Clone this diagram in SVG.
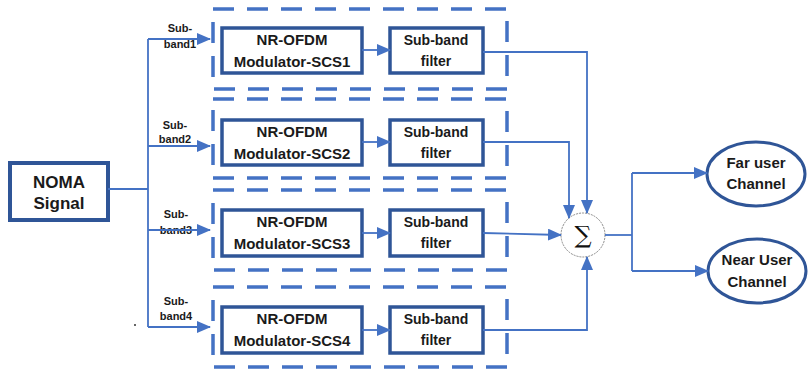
<svg xmlns="http://www.w3.org/2000/svg" width="809" height="369" viewBox="0 0 809 369">
<defs>
<marker id="ah" markerUnits="userSpaceOnUse" markerWidth="14" markerHeight="12" refX="13" refY="6" orient="auto">
<path d="M0,0 L14,6 L0,12 Z" fill="#4472C4"/>
</marker>
<style>
.dash{fill:none;stroke:#4472C4;stroke-width:3.5;stroke-dasharray:21 13}
.blk{fill:#fff;stroke:#2F5597;stroke-width:3.5}
.con{fill:none;stroke:#4472C4;stroke-width:1.8}
.t{font-family:"Liberation Sans",Arial,sans-serif;font-weight:bold;fill:#1a1a1a;text-anchor:middle}
.t15{font-size:15px}
.t14{font-size:14px}
.lbl{font-size:11px}
</style>
</defs>
<rect width="809" height="369" fill="#fff"/>

<g id="noma">
<rect x="10" y="163" width="98" height="57" fill="#fff" stroke="#2F5597" stroke-width="4"/>
<text class="t" x="59" y="188" font-size="17">NOMA</text>
<text class="t" x="59" y="209" font-size="17">Signal</text>
</g>

<g id="chain1">
<rect class="dash" x="213" y="9" width="294" height="80"/>
<rect class="blk" x="222" y="28" width="140" height="45"/>
<text class="t t15" x="292" y="45">NR-OFDM</text>
<text class="t t15" x="292" y="67">Modulator-SCS1</text>
<rect class="blk" x="390" y="28" width="93" height="45"/>
<text class="t t14" x="436" y="45">Sub-band</text>
<text class="t t14" x="436" y="66">filter</text>
</g>

<g id="chain2">
<rect class="dash" x="213" y="99" width="294" height="79"/>
<rect class="blk" x="222" y="120" width="140" height="45"/>
<text class="t t15" x="292" y="137">NR-OFDM</text>
<text class="t t15" x="292" y="159">Modulator-SCS2</text>
<rect class="blk" x="390" y="120" width="93" height="45"/>
<text class="t t14" x="436" y="137">Sub-band</text>
<text class="t t14" x="436" y="158">filter</text>
</g>

<g id="chain3">
<rect class="dash" x="213" y="190" width="294" height="80"/>
<rect class="blk" x="222" y="210" width="140" height="46"/>
<text class="t t15" x="292" y="227">NR-OFDM</text>
<text class="t t15" x="292" y="249">Modulator-SCS3</text>
<rect class="blk" x="390" y="210" width="93" height="46"/>
<text class="t t14" x="436" y="227">Sub-band</text>
<text class="t t14" x="436" y="248">filter</text>
</g>

<g id="chain4">
<rect class="dash" x="213" y="287" width="294" height="80"/>
<rect class="blk" x="222" y="307" width="140" height="46"/>
<text class="t t15" x="292" y="324">NR-OFDM</text>
<text class="t t15" x="292" y="346">Modulator-SCS4</text>
<rect class="blk" x="390" y="307" width="93" height="46"/>
<text class="t t14" x="436" y="324">Sub-band</text>
<text class="t t14" x="436" y="345">filter</text>
</g>

<g id="sum">
<circle cx="583" cy="235" r="22" fill="#fff" stroke="#888" stroke-width="1" stroke-dasharray="2 1"/>
<text x="583" y="243" font-family="'DejaVu Serif',serif" font-size="24" text-anchor="middle" fill="#111">∑</text>
</g>

<g id="far">
<ellipse cx="756" cy="174" rx="49" ry="32" fill="#fff" stroke="#2F5597" stroke-width="3"/>
<text class="t t15" x="756" y="168">Far user</text>
<text class="t t15" x="756" y="189">Channel</text>
</g>

<g id="near">
<ellipse cx="757" cy="271" rx="49" ry="32" fill="#fff" stroke="#2F5597" stroke-width="3"/>
<text class="t t15" x="757" y="265">Near User</text>
<text class="t t15" x="757" y="287">Channel</text>
</g>

<g id="labels">
<text class="t lbl" x="180" y="32">Sub-</text>
<text class="t lbl" x="180" y="48">band1</text>
<text class="t lbl" x="175" y="129">Sub-</text>
<text class="t lbl" x="175" y="143">band2</text>
<text class="t lbl" x="176" y="218">Sub-</text>
<text class="t lbl" x="176" y="234">band3</text>
<text class="t lbl" x="176" y="305">Sub-</text>
<text class="t lbl" x="176" y="320">band4</text>
<circle cx="135" cy="325" r="1" fill="#333"/>
</g>

<g id="connectors">
<path class="con" d="M108,189 H148"/>
<path class="con" d="M148,39 V327"/>
<path class="con" d="M148,39 H210" marker-end="url(#ah)"/>
<path class="con" d="M148,146 H210" marker-end="url(#ah)"/>
<path class="con" d="M148,230 H210" marker-end="url(#ah)"/>
<path class="con" d="M148,327 H210" marker-end="url(#ah)"/>
<path class="con" d="M362,50 H390" marker-end="url(#ah)"/>
<path class="con" d="M362,142 H390" marker-end="url(#ah)"/>
<path class="con" d="M362,233 H390" marker-end="url(#ah)"/>
<path class="con" d="M362,330 H390" marker-end="url(#ah)"/>
<path class="con" d="M483,52 H587 V213" marker-end="url(#ah)"/>
<path class="con" d="M483,142 H569 V218" marker-end="url(#ah)"/>
<path class="con" d="M483,233 L561,235" marker-end="url(#ah)"/>
<path class="con" d="M483,330 H587 V257" marker-end="url(#ah)"/>
<path class="con" d="M605,235 H632"/>
<path class="con" d="M632,173 V271"/>
<path class="con" d="M632,173 H707" marker-end="url(#ah)"/>
<path class="con" d="M632,271 H708" marker-end="url(#ah)"/>
</g>
</svg>
